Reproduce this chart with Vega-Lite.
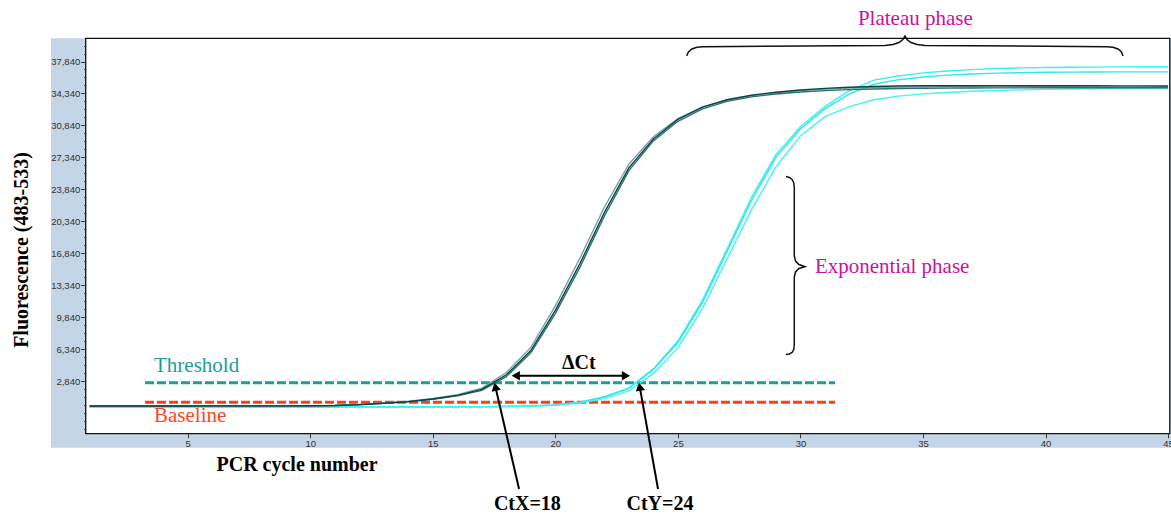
{
  "$schema": "https://vega.github.io/schema/vega-lite/v6.json",
  "width": 1171,
  "height": 514,
  "autosize": {"type": "none"},
  "padding": 0,
  "background": "white",
  "config": {"view": {"stroke": null}},
  "datasets": {
    "panel": [{"c": -0.577, "c2": 45.12, "v": -4427, "v2": 40379}],
    "frame": [{"c": 0.8385, "c2": 45.07, "v": -2895, "v2": 40379}],
    "threshold": [{"c": 3.258, "c2": 31.41, "v": 2687}],
    "baseline": [{"c": 3.258, "c2": 31.41, "v": 542}],
    "curves": [
      {"s":"A","c":1,"v":40},{"s":"A","c":2,"v":40},{"s":"A","c":3,"v":40},{"s":"A","c":4,"v":41},{"s":"A","c":5,"v":41},{"s":"A","c":6,"v":42},{"s":"A","c":7,"v":42},{"s":"A","c":8,"v":43},{"s":"A","c":9,"v":43},{"s":"A","c":10,"v":44},{"s":"A","c":11,"v":45},{"s":"A","c":12,"v":46},{"s":"A","c":13,"v":47},{"s":"A","c":14,"v":48},{"s":"A","c":15,"v":50},{"s":"A","c":16,"v":55},{"s":"A","c":17,"v":70},{"s":"A","c":18,"v":100},{"s":"A","c":19,"v":150},{"s":"A","c":20,"v":250},{"s":"A","c":21,"v":560},{"s":"A","c":22,"v":1150},{"s":"A","c":23,"v":2100},{"s":"A","c":24,"v":4200},{"s":"A","c":25,"v":7250},{"s":"A","c":26,"v":11700},{"s":"A","c":27,"v":17300},{"s":"A","c":28,"v":22950},{"s":"A","c":29,"v":27650},{"s":"A","c":30,"v":30700},{"s":"A","c":31,"v":32900},{"s":"A","c":32,"v":34650},{"s":"A","c":33,"v":35800},{"s":"A","c":34,"v":36250},{"s":"A","c":35,"v":36600},{"s":"A","c":36,"v":36800},{"s":"A","c":37,"v":36950},{"s":"A","c":38,"v":37080},{"s":"A","c":39,"v":37140},{"s":"A","c":40,"v":37180},{"s":"A","c":41,"v":37210},{"s":"A","c":42,"v":37230},{"s":"A","c":43,"v":37250},{"s":"A","c":44,"v":37260},{"s":"A","c":45,"v":37270},
      {"s":"B","c":1,"v":30},{"s":"B","c":2,"v":30},{"s":"B","c":3,"v":31},{"s":"B","c":4,"v":31},{"s":"B","c":5,"v":32},{"s":"B","c":6,"v":32},{"s":"B","c":7,"v":33},{"s":"B","c":8,"v":33},{"s":"B","c":9,"v":34},{"s":"B","c":10,"v":35},{"s":"B","c":11,"v":36},{"s":"B","c":12,"v":37},{"s":"B","c":13,"v":38},{"s":"B","c":14,"v":40},{"s":"B","c":15,"v":42},{"s":"B","c":16,"v":48},{"s":"B","c":17,"v":62},{"s":"B","c":18,"v":90},{"s":"B","c":19,"v":140},{"s":"B","c":20,"v":240},{"s":"B","c":21,"v":540},{"s":"B","c":22,"v":1120},{"s":"B","c":23,"v":2060},{"s":"B","c":24,"v":4120},{"s":"B","c":25,"v":7050},{"s":"B","c":26,"v":11450},{"s":"B","c":27,"v":17000},{"s":"B","c":28,"v":22600},{"s":"B","c":29,"v":27350},{"s":"B","c":30,"v":30450},{"s":"B","c":31,"v":32650},{"s":"B","c":32,"v":34300},{"s":"B","c":33,"v":35350},{"s":"B","c":34,"v":35850},{"s":"B","c":35,"v":36150},{"s":"B","c":36,"v":36350},{"s":"B","c":37,"v":36480},{"s":"B","c":38,"v":36570},{"s":"B","c":39,"v":36620},{"s":"B","c":40,"v":36660},{"s":"B","c":41,"v":36680},{"s":"B","c":42,"v":36690},{"s":"B","c":43,"v":36700},{"s":"B","c":44,"v":36700},{"s":"B","c":45,"v":36700},
      {"s":"C","c":1,"v":20},{"s":"C","c":2,"v":20},{"s":"C","c":3,"v":21},{"s":"C","c":4,"v":21},{"s":"C","c":5,"v":22},{"s":"C","c":6,"v":22},{"s":"C","c":7,"v":23},{"s":"C","c":8,"v":23},{"s":"C","c":9,"v":24},{"s":"C","c":10,"v":25},{"s":"C","c":11,"v":26},{"s":"C","c":12,"v":27},{"s":"C","c":13,"v":28},{"s":"C","c":14,"v":30},{"s":"C","c":15,"v":32},{"s":"C","c":16,"v":38},{"s":"C","c":17,"v":52},{"s":"C","c":18,"v":78},{"s":"C","c":19,"v":120},{"s":"C","c":20,"v":200},{"s":"C","c":21,"v":450},{"s":"C","c":22,"v":950},{"s":"C","c":23,"v":1800},{"s":"C","c":24,"v":3700},{"s":"C","c":25,"v":6500},{"s":"C","c":26,"v":10800},{"s":"C","c":27,"v":16200},{"s":"C","c":28,"v":21600},{"s":"C","c":29,"v":26300},{"s":"C","c":30,"v":29700},{"s":"C","c":31,"v":31800},{"s":"C","c":32,"v":32900},{"s":"C","c":33,"v":33650},{"s":"C","c":34,"v":34050},{"s":"C","c":35,"v":34300},{"s":"C","c":36,"v":34450},{"s":"C","c":37,"v":34580},{"s":"C","c":38,"v":34670},{"s":"C","c":39,"v":34740},{"s":"C","c":40,"v":34790},{"s":"C","c":41,"v":34830},{"s":"C","c":42,"v":34860},{"s":"C","c":43,"v":34880},{"s":"C","c":44,"v":34900},{"s":"C","c":45,"v":34910},
      {"s":"D2","c":1,"v":120},{"s":"D2","c":2,"v":121},{"s":"D2","c":3,"v":122},{"s":"D2","c":4,"v":123},{"s":"D2","c":5,"v":125},{"s":"D2","c":6,"v":127},{"s":"D2","c":7,"v":130},{"s":"D2","c":8,"v":134},{"s":"D2","c":9,"v":140},{"s":"D2","c":10,"v":155},{"s":"D2","c":11,"v":195},{"s":"D2","c":12,"v":300},{"s":"D2","c":13,"v":460},{"s":"D2","c":14,"v":660},{"s":"D2","c":15,"v":960},{"s":"D2","c":16,"v":1380},{"s":"D2","c":17,"v":2100},{"s":"D2","c":18,"v":3800},{"s":"D2","c":19,"v":6550},{"s":"D2","c":20,"v":11100},{"s":"D2","c":21,"v":16300},{"s":"D2","c":22,"v":21900},{"s":"D2","c":23,"v":26600},{"s":"D2","c":24,"v":29600},{"s":"D2","c":25,"v":31600},{"s":"D2","c":26,"v":32850},{"s":"D2","c":27,"v":33620},{"s":"D2","c":28,"v":34100},{"s":"D2","c":29,"v":34420},{"s":"D2","c":30,"v":34650},{"s":"D2","c":31,"v":34810},{"s":"D2","c":32,"v":34930},{"s":"D2","c":33,"v":35000},{"s":"D2","c":34,"v":35040},{"s":"D2","c":35,"v":35060},{"s":"D2","c":36,"v":35070},{"s":"D2","c":37,"v":35070},{"s":"D2","c":38,"v":35080},{"s":"D2","c":39,"v":35080},{"s":"D2","c":40,"v":35070},{"s":"D2","c":41,"v":35070},{"s":"D2","c":42,"v":35060},{"s":"D2","c":43,"v":35060},{"s":"D2","c":44,"v":35050},{"s":"D2","c":45,"v":35050},
      {"s":"D3","c":1,"v":130},{"s":"D3","c":2,"v":130},{"s":"D3","c":3,"v":131},{"s":"D3","c":4,"v":133},{"s":"D3","c":5,"v":135},{"s":"D3","c":6,"v":137},{"s":"D3","c":7,"v":140},{"s":"D3","c":8,"v":144},{"s":"D3","c":9,"v":150},{"s":"D3","c":10,"v":158},{"s":"D3","c":11,"v":185},{"s":"D3","c":12,"v":280},{"s":"D3","c":13,"v":425},{"s":"D3","c":14,"v":600},{"s":"D3","c":15,"v":860},{"s":"D3","c":16,"v":1250},{"s":"D3","c":17,"v":1850},{"s":"D3","c":18,"v":3350},{"s":"D3","c":19,"v":5950},{"s":"D3","c":20,"v":10250},{"s":"D3","c":21,"v":15300},{"s":"D3","c":22,"v":20900},{"s":"D3","c":23,"v":25900},{"s":"D3","c":24,"v":29150},{"s":"D3","c":25,"v":31300},{"s":"D3","c":26,"v":32650},{"s":"D3","c":27,"v":33480},{"s":"D3","c":28,"v":33970},{"s":"D3","c":29,"v":34290},{"s":"D3","c":30,"v":34500},{"s":"D3","c":31,"v":34650},{"s":"D3","c":32,"v":34760},{"s":"D3","c":33,"v":34830},{"s":"D3","c":34,"v":34880},{"s":"D3","c":35,"v":34910},{"s":"D3","c":36,"v":34930},{"s":"D3","c":37,"v":34940},{"s":"D3","c":38,"v":34950},{"s":"D3","c":39,"v":34950},{"s":"D3","c":40,"v":34960},{"s":"D3","c":41,"v":34960},{"s":"D3","c":42,"v":34960},{"s":"D3","c":43,"v":34960},{"s":"D3","c":44,"v":34960},{"s":"D3","c":45,"v":34960},
      {"s":"D1","c":1,"v":140},{"s":"D1","c":2,"v":140},{"s":"D1","c":3,"v":141},{"s":"D1","c":4,"v":142},{"s":"D1","c":5,"v":144},{"s":"D1","c":6,"v":146},{"s":"D1","c":7,"v":148},{"s":"D1","c":8,"v":151},{"s":"D1","c":9,"v":155},{"s":"D1","c":10,"v":160},{"s":"D1","c":11,"v":190},{"s":"D1","c":12,"v":290},{"s":"D1","c":13,"v":440},{"s":"D1","c":14,"v":620},{"s":"D1","c":15,"v":900},{"s":"D1","c":16,"v":1300},{"s":"D1","c":17,"v":1950},{"s":"D1","c":18,"v":3550},{"s":"D1","c":19,"v":6200},{"s":"D1","c":20,"v":10600},{"s":"D1","c":21,"v":15700},{"s":"D1","c":22,"v":21300},{"s":"D1","c":23,"v":26200},{"s":"D1","c":24,"v":29350},{"s":"D1","c":25,"v":31500},{"s":"D1","c":26,"v":32850},{"s":"D1","c":27,"v":33650},{"s":"D1","c":28,"v":34150},{"s":"D1","c":29,"v":34480},{"s":"D1","c":30,"v":34720},{"s":"D1","c":31,"v":34900},{"s":"D1","c":32,"v":35030},{"s":"D1","c":33,"v":35110},{"s":"D1","c":34,"v":35160},{"s":"D1","c":35,"v":35180},{"s":"D1","c":36,"v":35190},{"s":"D1","c":37,"v":35190},{"s":"D1","c":38,"v":35200},{"s":"D1","c":39,"v":35190},{"s":"D1","c":40,"v":35190},{"s":"D1","c":41,"v":35180},{"s":"D1","c":42,"v":35180},{"s":"D1","c":43,"v":35170},{"s":"D1","c":44,"v":35170},{"s":"D1","c":45,"v":35160}
    ],
    "hbrace": [
      {"o":1,"c":25.36,"v":38441},{"o":2,"c":25.43,"v":38879},{"o":3,"c":25.57,"v":39207},{"o":4,"c":25.78,"v":39394},{"o":5,"c":26.02,"v":39459},{"o":6,"c":33.45,"v":39590},{"o":7,"c":33.78,"v":39700},{"o":8,"c":34.02,"v":39919},{"o":9,"c":34.18,"v":40247},{"o":10,"c":34.27,"v":40630},{"o":11,"c":34.35,"v":40247},{"o":12,"c":34.51,"v":39919},{"o":13,"c":34.76,"v":39700},{"o":14,"c":35.08,"v":39590},{"o":15,"c":42.51,"v":39459},{"o":16,"c":42.75,"v":39394},{"o":17,"c":42.96,"v":39207},{"o":18,"c":43.10,"v":38879},{"o":19,"c":43.16,"v":38441}
    ],
    "vbrace": [
      {"o":1,"c":29.41,"v":25254},{"o":2,"c":29.55,"v":25145},{"o":3,"c":29.66,"v":24926},{"o":4,"c":29.73,"v":24543},{"o":5,"c":29.75,"v":23995},{"o":6,"c":29.75,"v":16553},{"o":7,"c":29.80,"v":16006},{"o":8,"c":29.94,"v":15623},{"o":9,"c":30.19,"v":15382},{"o":10,"c":29.94,"v":15185},{"o":11,"c":29.80,"v":14802},{"o":12,"c":29.75,"v":14255},{"o":13,"c":29.75,"v":6813},{"o":14,"c":29.73,"v":6321},{"o":15,"c":29.66,"v":5992},{"o":16,"c":29.55,"v":5828},{"o":17,"c":29.41,"v":5774}
    ],
    "deltaLine": [{"c": 18.386, "c2": 22.88, "v": 3453}],
    "deltaLeft": [{"c": 18.386, "v": 3453}],
    "deltaRight": [{"c": 22.88, "v": 3453}],
    "ctLines": [
      {"c": 18.52, "v": -8946, "c2": 17.554, "v2": 2250},
      {"c": 24.19, "v": -8946, "c2": 23.442, "v2": 2250}
    ],
    "ctxHead": [{"c": 17.554, "v": 2250}],
    "ctyHead": [{"c": 23.442, "v": 2250}],
    "boldText": [
      {"c": 9.46, "v": -7031, "t": "PCR cycle number"},
      {"c": 18.86, "v": -11201, "t": "CtX=18"},
      {"c": 24.27, "v": -11201, "t": "CtY=24"},
      {"c": 20.96, "v": 4154, "t": "ΔCt"}
    ],
    "yTitle": [{"c": -1.76, "v": 17210, "t": "Fluorescence (483-533)"}],
    "plateauText": [{"c": 34.69, "v": 41834, "t": "Plateau phase"}],
    "expText": [{"c": 30.59, "v": 14659, "t": "Exponential phase"}],
    "thrText": [{"c": 3.625, "v": 3890, "t": "Threshold"}],
    "baseText": [{"c": 3.625, "v": -1581, "t": "Baseline"}]
  },
  "encoding": {
    "x": {
      "field": "c", "type": "quantitative",
      "scale": {"domain": [-2.658, 45.12], "nice": false, "zero": false},
      "axis": {
        "orient": "bottom", "offset": -80.3, "values": [5, 10, 15, 20, 25, 30, 35, 40, 45],
        "format": "d", "domain": false, "grid": false, "tickSize": 4, "tickColor": "#333333",
        "labelFont": "Liberation Sans", "labelFontSize": 9.5, "labelColor": "#333333",
        "labelPadding": 1, "labelFlush": false, "labelOverlap": false, "title": null, "zindex": 1
      }
    },
    "y": {
      "field": "v", "type": "quantitative",
      "scale": {"domain": [-11683, 44571], "nice": false, "zero": false},
      "axis": {
        "orient": "left", "offset": -85.7,
        "values": [-2410, -1535, -660, 215, 1090, 1965, 2840, 3715, 4590, 5465, 6340, 7215, 8090, 8965, 9840, 10715, 11590, 12465, 13340, 14215, 15090, 15965, 16840, 17715, 18590, 19465, 20340, 21215, 22090, 22965, 23840, 24715, 25590, 26465, 27340, 28215, 29090, 29965, 30840, 31715, 32590, 33465, 34340, 35215, 36090, 36965, 37840, 38715, 39590],
        "labelExpr": "datum.value >= 2840 && (datum.value - 2840) % 3500 == 0 ? format(datum.value, ',') : ''",
        "tickSize": {"condition": {"test": "datum.value >= 2840 && (datum.value - 2840) % 3500 == 0", "value": 5}, "value": 2},
        "domain": false, "grid": false, "tickColor": "#333333",
        "labelFont": "Liberation Sans", "labelFontSize": 9.5, "labelColor": "#333333",
        "labelPadding": 1, "labelFlush": false, "labelOverlap": false, "title": null, "zindex": 1
      }
    }
  },
  "layer": [
    {"data": {"name": "panel"}, "mark": {"type": "rect", "fill": "#c3d5e6"}, "encoding": {"x2": {"field": "c2"}, "y2": {"field": "v2"}}},
    {"data": {"name": "frame"}, "mark": {"type": "rect", "fill": "white", "stroke": "#111111", "strokeWidth": 1.3}, "encoding": {"x2": {"field": "c2"}, "y2": {"field": "v2"}}},
    {"data": {"name": "threshold"}, "mark": {"type": "rule", "color": "#16a09b", "strokeWidth": 3, "strokeDash": [9, 3]}, "encoding": {"x2": {"field": "c2"}}},
    {"data": {"name": "baseline"}, "mark": {"type": "rule", "color": "#ff3c1c", "strokeWidth": 3, "strokeDash": [9, 3]}, "encoding": {"x2": {"field": "c2"}}},
    {
      "data": {"name": "curves"},
      "mark": {"type": "line", "strokeWidth": 1.4},
      "encoding": {
        "color": {"field": "s", "type": "nominal", "legend": null,
          "scale": {"domain": ["A", "B", "C", "D2", "D3", "D1"], "range": ["#3cf0f0", "#2ee8ee", "#40f4f4", "#7fa3a3", "#2a7070", "#0b4444"]}}
      }
    },
    {"data": {"name": "hbrace"}, "mark": {"type": "line", "color": "#111111", "strokeWidth": 1.5}, "encoding": {"order": {"field": "o"}}},
    {"data": {"name": "vbrace"}, "mark": {"type": "line", "color": "#111111", "strokeWidth": 1.5}, "encoding": {"order": {"field": "o"}}},
    {"data": {"name": "deltaLine"}, "mark": {"type": "rule", "color": "black", "strokeWidth": 2}, "encoding": {"x2": {"field": "c2"}}},
    {"data": {"name": "deltaLeft"}, "mark": {"type": "point", "shape": "triangle-left", "filled": true, "color": "black", "size": 90, "opacity": 1}},
    {"data": {"name": "deltaRight"}, "mark": {"type": "point", "shape": "triangle-right", "filled": true, "color": "black", "size": 90, "opacity": 1}},
    {"data": {"name": "ctLines"}, "mark": {"type": "rule", "color": "black", "strokeWidth": 2}, "encoding": {"x2": {"field": "c2"}, "y2": {"field": "v2"}}},
    {"data": {"name": "ctxHead"}, "mark": {"type": "point", "shape": "triangle-up", "filled": true, "color": "black", "size": 90, "opacity": 1, "angle": 347.2}},
    {"data": {"name": "ctyHead"}, "mark": {"type": "point", "shape": "triangle-up", "filled": true, "color": "black", "size": 90, "opacity": 1, "angle": 349.9}},
    {"data": {"name": "boldText"}, "mark": {"type": "text", "font": "Liberation Serif", "fontSize": 20, "fontWeight": "bold", "color": "black", "align": "center", "baseline": "alphabetic"}, "encoding": {"text": {"field": "t"}}},
    {"data": {"name": "yTitle"}, "mark": {"type": "text", "font": "Liberation Serif", "fontSize": 20, "fontWeight": "bold", "color": "black", "align": "center", "baseline": "middle", "angle": 270}, "encoding": {"text": {"field": "t"}}},
    {"data": {"name": "plateauText"}, "mark": {"type": "text", "font": "Liberation Serif", "fontSize": 21, "color": "#cc1199", "align": "center", "baseline": "alphabetic"}, "encoding": {"text": {"field": "t"}}},
    {"data": {"name": "expText"}, "mark": {"type": "text", "font": "Liberation Serif", "fontSize": 21, "color": "#cc1199", "align": "left", "baseline": "alphabetic"}, "encoding": {"text": {"field": "t"}}},
    {"data": {"name": "thrText"}, "mark": {"type": "text", "font": "Liberation Serif", "fontSize": 21, "color": "#1a9e9a", "align": "left", "baseline": "alphabetic"}, "encoding": {"text": {"field": "t"}}},
    {"data": {"name": "baseText"}, "mark": {"type": "text", "font": "Liberation Serif", "fontSize": 21, "color": "#ff4526", "align": "left", "baseline": "alphabetic"}, "encoding": {"text": {"field": "t"}}}
  ]
}
